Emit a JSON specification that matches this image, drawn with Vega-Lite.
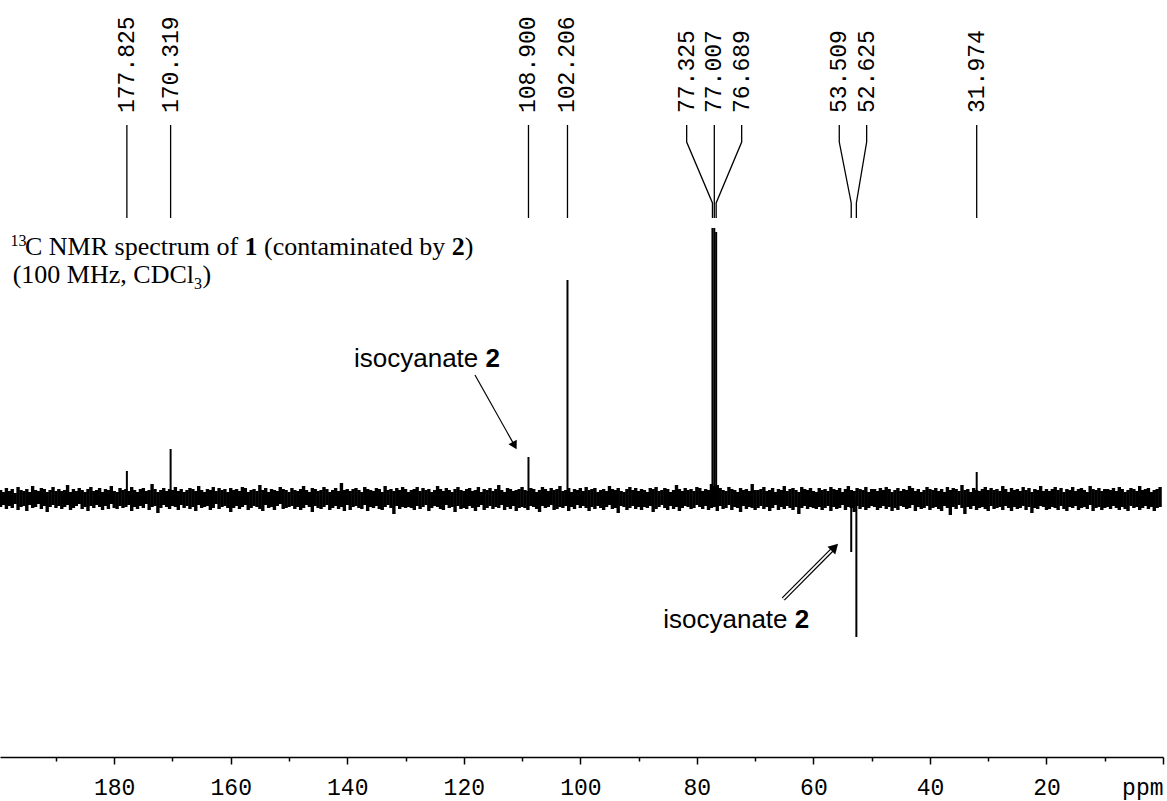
{
"$schema": "https://vega.github.io/schema/vega-lite/v6.json",
"width": 1163, "height": 757,
"autosize": "none",
"padding": {"left": 0, "top": 0, "right": 4, "bottom": 44},
"background": "white",
"config": {"view": {"stroke": null}, "axis": {"grid": false}},
"layer": [
{"data": {"values": [
{"p":199.5,"lo":-9,"hi":8},{"p":199,"lo":-7,"hi":6},{"p":198.5,"lo":-11,"hi":10},{"p":198,"lo":-8,"hi":7},{"p":197.5,"lo":-10,"hi":9},{"p":197,"lo":-6,"hi":5},{"p":196.5,"lo":-12,"hi":11},{"p":196,"lo":-9,"hi":8},{"p":195.5,"lo":-8,"hi":7},{"p":195,"lo":-13,"hi":9},{"p":194.5,"lo":-7,"hi":6},{"p":194,"lo":-10,"hi":12},{"p":193.5,"lo":-9,"hi":8},{"p":193,"lo":-6,"hi":7},{"p":192.5,"lo":-11,"hi":10},{"p":192,"lo":-8,"hi":9},{"p":191.5,"lo":-14,"hi":6},{"p":191,"lo":-9,"hi":8},{"p":190.5,"lo":-7,"hi":11},{"p":190,"lo":-10,"hi":7},
{"p":189.5,"lo":-8,"hi":9},{"p":189,"lo":-11,"hi":7},{"p":188.5,"lo":-9,"hi":8},{"p":188,"lo":-7,"hi":13},{"p":187.5,"lo":-12,"hi":6},{"p":187,"lo":-10,"hi":9},{"p":186.5,"lo":-8,"hi":7},{"p":186,"lo":-6,"hi":10},{"p":185.5,"lo":-11,"hi":8},{"p":185,"lo":-9,"hi":6},{"p":184.5,"lo":-13,"hi":9},{"p":184,"lo":-8,"hi":11},{"p":183.5,"lo":-10,"hi":7},{"p":183,"lo":-7,"hi":8},{"p":182.5,"lo":-9,"hi":10},{"p":182,"lo":-12,"hi":6},{"p":181.5,"lo":-8,"hi":9},{"p":181,"lo":-11,"hi":8},{"p":180.5,"lo":-6,"hi":12},{"p":180,"lo":-10,"hi":7},
{"p":179.5,"lo":-11,"hi":6},{"p":179,"lo":-8,"hi":10},{"p":178.5,"lo":-10,"hi":8},{"p":178,"lo":-9,"hi":9},{"p":177.5,"lo":-7,"hi":7},{"p":177,"lo":-13,"hi":11},{"p":176.5,"lo":-9,"hi":8},{"p":176,"lo":-11,"hi":6},{"p":175.5,"lo":-8,"hi":9},{"p":175,"lo":-10,"hi":10},{"p":174.5,"lo":-6,"hi":7},{"p":174,"lo":-12,"hi":8},{"p":173.5,"lo":-9,"hi":14},{"p":173,"lo":-8,"hi":9},{"p":172.5,"lo":-15,"hi":6},{"p":172,"lo":-10,"hi":8},{"p":171.5,"lo":-7,"hi":10},{"p":171,"lo":-9,"hi":7},{"p":170.5,"lo":-11,"hi":9},{"p":170,"lo":-8,"hi":8},
{"p":169.5,"lo":-9,"hi":11},{"p":169,"lo":-12,"hi":7},{"p":168.5,"lo":-7,"hi":9},{"p":168,"lo":-10,"hi":6},{"p":167.5,"lo":-8,"hi":8},{"p":167,"lo":-11,"hi":10},{"p":166.5,"lo":-9,"hi":9},{"p":166,"lo":-13,"hi":7},{"p":165.5,"lo":-7,"hi":12},{"p":165,"lo":-10,"hi":8},{"p":164.5,"lo":-9,"hi":6},{"p":164,"lo":-8,"hi":9},{"p":163.5,"lo":-12,"hi":8},{"p":163,"lo":-10,"hi":11},{"p":162.5,"lo":-6,"hi":7},{"p":162,"lo":-11,"hi":10},{"p":161.5,"lo":-9,"hi":8},{"p":161,"lo":-8,"hi":9},{"p":160.5,"lo":-10,"hi":6},{"p":160,"lo":-14,"hi":10},
{"p":159.5,"lo":-10,"hi":8},{"p":159,"lo":-8,"hi":9},{"p":158.5,"lo":-11,"hi":7},{"p":158,"lo":-9,"hi":11},{"p":157.5,"lo":-7,"hi":10},{"p":157,"lo":-12,"hi":6},{"p":156.5,"lo":-10,"hi":8},{"p":156,"lo":-8,"hi":9},{"p":155.5,"lo":-9,"hi":7},{"p":155,"lo":-11,"hi":13},{"p":154.5,"lo":-13,"hi":8},{"p":154,"lo":-7,"hi":10},{"p":153.5,"lo":-10,"hi":6},{"p":153,"lo":-9,"hi":9},{"p":152.5,"lo":-12,"hi":8},{"p":152,"lo":-8,"hi":7},{"p":151.5,"lo":-6,"hi":11},{"p":151,"lo":-11,"hi":9},{"p":150.5,"lo":-10,"hi":8},{"p":150,"lo":-9,"hi":6},
{"p":149.5,"lo":-8,"hi":10},{"p":149,"lo":-11,"hi":8},{"p":148.5,"lo":-9,"hi":7},{"p":148,"lo":-12,"hi":9},{"p":147.5,"lo":-10,"hi":12},{"p":147,"lo":-7,"hi":8},{"p":146.5,"lo":-9,"hi":6},{"p":146,"lo":-14,"hi":10},{"p":145.5,"lo":-8,"hi":9},{"p":145,"lo":-10,"hi":7},{"p":144.5,"lo":-11,"hi":8},{"p":144,"lo":-9,"hi":11},{"p":143.5,"lo":-7,"hi":9},{"p":143,"lo":-12,"hi":6},{"p":142.5,"lo":-10,"hi":8},{"p":142,"lo":-8,"hi":10},{"p":141.5,"lo":-11,"hi":7},{"p":141,"lo":-9,"hi":15},{"p":140.5,"lo":-13,"hi":8},{"p":140,"lo":-7,"hi":9},
{"p":139.5,"lo":-12,"hi":7},{"p":139,"lo":-9,"hi":9},{"p":138.5,"lo":-8,"hi":10},{"p":138,"lo":-10,"hi":8},{"p":137.5,"lo":-11,"hi":6},{"p":137,"lo":-7,"hi":11},{"p":136.5,"lo":-13,"hi":9},{"p":136,"lo":-9,"hi":8},{"p":135.5,"lo":-10,"hi":7},{"p":135,"lo":-8,"hi":10},{"p":134.5,"lo":-11,"hi":9},{"p":134,"lo":-12,"hi":6},{"p":133.5,"lo":-9,"hi":12},{"p":133,"lo":-7,"hi":8},{"p":132.5,"lo":-10,"hi":9},{"p":132,"lo":-16,"hi":7},{"p":131.5,"lo":-8,"hi":10},{"p":131,"lo":-11,"hi":8},{"p":130.5,"lo":-9,"hi":11},{"p":130,"lo":-10,"hi":9},
{"p":129.5,"lo":-9,"hi":6},{"p":129,"lo":-10,"hi":8},{"p":128.5,"lo":-12,"hi":9},{"p":128,"lo":-8,"hi":11},{"p":127.5,"lo":-11,"hi":7},{"p":127,"lo":-9,"hi":10},{"p":126.5,"lo":-7,"hi":8},{"p":126,"lo":-13,"hi":9},{"p":125.5,"lo":-10,"hi":6},{"p":125,"lo":-8,"hi":8},{"p":124.5,"lo":-9,"hi":12},{"p":124,"lo":-11,"hi":9},{"p":123.5,"lo":-12,"hi":7},{"p":123,"lo":-7,"hi":10},{"p":122.5,"lo":-10,"hi":8},{"p":122,"lo":-9,"hi":6},{"p":121.5,"lo":-14,"hi":9},{"p":121,"lo":-8,"hi":11},{"p":120.5,"lo":-11,"hi":8},{"p":120,"lo":-10,"hi":7},
{"p":119.5,"lo":-11,"hi":9},{"p":119,"lo":-8,"hi":10},{"p":118.5,"lo":-10,"hi":7},{"p":118,"lo":-13,"hi":8},{"p":117.5,"lo":-9,"hi":11},{"p":117,"lo":-7,"hi":6},{"p":116.5,"lo":-12,"hi":9},{"p":116,"lo":-10,"hi":8},{"p":115.5,"lo":-8,"hi":10},{"p":115,"lo":-11,"hi":7},{"p":114.5,"lo":-9,"hi":9},{"p":114,"lo":-10,"hi":13},{"p":113.5,"lo":-7,"hi":8},{"p":113,"lo":-12,"hi":6},{"p":112.5,"lo":-9,"hi":10},{"p":112,"lo":-11,"hi":9},{"p":111.5,"lo":-8,"hi":7},{"p":111,"lo":-13,"hi":8},{"p":110.5,"lo":-10,"hi":9},{"p":110,"lo":-9,"hi":11},
{"p":109.5,"lo":-10,"hi":8},{"p":109,"lo":-12,"hi":7},{"p":108.5,"lo":-8,"hi":10},{"p":108,"lo":-9,"hi":9},{"p":107.5,"lo":-11,"hi":6},{"p":107,"lo":-14,"hi":8},{"p":106.5,"lo":-8,"hi":11},{"p":106,"lo":-10,"hi":9},{"p":105.5,"lo":-9,"hi":7},{"p":105,"lo":-7,"hi":10},{"p":104.5,"lo":-12,"hi":8},{"p":104,"lo":-11,"hi":9},{"p":103.5,"lo":-9,"hi":12},{"p":103,"lo":-10,"hi":7},{"p":102.5,"lo":-8,"hi":8},{"p":102,"lo":-13,"hi":10},{"p":101.5,"lo":-9,"hi":6},{"p":101,"lo":-11,"hi":9},{"p":100.5,"lo":-7,"hi":8},{"p":100,"lo":-10,"hi":10},
{"p":99.5,"lo":-8,"hi":7},{"p":99,"lo":-10,"hi":11},{"p":98.5,"lo":-13,"hi":8},{"p":98,"lo":-9,"hi":9},{"p":97.5,"lo":-11,"hi":10},{"p":97,"lo":-8,"hi":6},{"p":96.5,"lo":-10,"hi":8},{"p":96,"lo":-12,"hi":9},{"p":95.5,"lo":-9,"hi":7},{"p":95,"lo":-7,"hi":12},{"p":94.5,"lo":-11,"hi":9},{"p":94,"lo":-10,"hi":8},{"p":93.5,"lo":-15,"hi":10},{"p":93,"lo":-8,"hi":7},{"p":92.5,"lo":-9,"hi":6},{"p":92,"lo":-12,"hi":9},{"p":91.5,"lo":-10,"hi":11},{"p":91,"lo":-8,"hi":8},{"p":90.5,"lo":-11,"hi":10},{"p":90,"lo":-9,"hi":7},
{"p":89.5,"lo":-12,"hi":9},{"p":89,"lo":-9,"hi":8},{"p":88.5,"lo":-10,"hi":6},{"p":88,"lo":-8,"hi":10},{"p":87.5,"lo":-14,"hi":9},{"p":87,"lo":-11,"hi":11},{"p":86.5,"lo":-9,"hi":7},{"p":86,"lo":-7,"hi":8},{"p":85.5,"lo":-10,"hi":10},{"p":85,"lo":-12,"hi":9},{"p":84.5,"lo":-8,"hi":6},{"p":84,"lo":-11,"hi":8},{"p":83.5,"lo":-9,"hi":13},{"p":83,"lo":-13,"hi":9},{"p":82.5,"lo":-10,"hi":7},{"p":82,"lo":-8,"hi":10},{"p":81.5,"lo":-9,"hi":8},{"p":81,"lo":-11,"hi":9},{"p":80.5,"lo":-10,"hi":7},{"p":80,"lo":-7,"hi":11},
{"p":79.5,"lo":-9,"hi":10},{"p":79,"lo":-11,"hi":7},{"p":78.5,"lo":-8,"hi":9},{"p":78,"lo":-12,"hi":8},{"p":77.5,"lo":-10,"hi":14},{"p":77,"lo":-9,"hi":12},{"p":76.5,"lo":-13,"hi":13},{"p":76,"lo":-8,"hi":10},{"p":75.5,"lo":-11,"hi":8},{"p":75,"lo":-10,"hi":7},{"p":74.5,"lo":-7,"hi":11},{"p":74,"lo":-12,"hi":9},{"p":73.5,"lo":-9,"hi":8},{"p":73,"lo":-10,"hi":6},{"p":72.5,"lo":-14,"hi":10},{"p":72,"lo":-8,"hi":8},{"p":71.5,"lo":-11,"hi":9},{"p":71,"lo":-9,"hi":7},{"p":70.5,"lo":-10,"hi":14},{"p":70,"lo":-12,"hi":8},
{"p":69.5,"lo":-10,"hi":8},{"p":69,"lo":-8,"hi":9},{"p":68.5,"lo":-11,"hi":11},{"p":68,"lo":-9,"hi":7},{"p":67.5,"lo":-13,"hi":8},{"p":67,"lo":-10,"hi":10},{"p":66.5,"lo":-7,"hi":6},{"p":66,"lo":-12,"hi":9},{"p":65.5,"lo":-9,"hi":8},{"p":65,"lo":-11,"hi":12},{"p":64.5,"lo":-8,"hi":7},{"p":64,"lo":-10,"hi":9},{"p":63.5,"lo":-12,"hi":10},{"p":63,"lo":-9,"hi":8},{"p":62.5,"lo":-16,"hi":6},{"p":62,"lo":-10,"hi":11},{"p":61.5,"lo":-8,"hi":9},{"p":61,"lo":-11,"hi":8},{"p":60.5,"lo":-9,"hi":10},{"p":60,"lo":-10,"hi":7},
{"p":59.5,"lo":-11,"hi":6},{"p":59,"lo":-9,"hi":10},{"p":58.5,"lo":-12,"hi":8},{"p":58,"lo":-10,"hi":9},{"p":57.5,"lo":-8,"hi":7},{"p":57,"lo":-13,"hi":11},{"p":56.5,"lo":-9,"hi":9},{"p":56,"lo":-11,"hi":8},{"p":55.5,"lo":-10,"hi":10},{"p":55,"lo":-7,"hi":6},{"p":54.5,"lo":-12,"hi":9},{"p":54,"lo":-9,"hi":12},{"p":53.5,"lo":-10,"hi":8},{"p":53,"lo":-14,"hi":7},{"p":52.5,"lo":-8,"hi":10},{"p":52,"lo":-11,"hi":9},{"p":51.5,"lo":-9,"hi":8},{"p":51,"lo":-12,"hi":11},{"p":50.5,"lo":-10,"hi":6},{"p":50,"lo":-8,"hi":9},
{"p":49.5,"lo":-9,"hi":9},{"p":49,"lo":-12,"hi":7},{"p":48.5,"lo":-10,"hi":10},{"p":48,"lo":-8,"hi":8},{"p":47.5,"lo":-11,"hi":11},{"p":47,"lo":-9,"hi":9},{"p":46.5,"lo":-13,"hi":6},{"p":46,"lo":-10,"hi":8},{"p":45.5,"lo":-12,"hi":10},{"p":45,"lo":-8,"hi":7},{"p":44.5,"lo":-9,"hi":9},{"p":44,"lo":-11,"hi":8},{"p":43.5,"lo":-10,"hi":12},{"p":43,"lo":-7,"hi":10},{"p":42.5,"lo":-13,"hi":7},{"p":42,"lo":-9,"hi":9},{"p":41.5,"lo":-11,"hi":6},{"p":41,"lo":-10,"hi":8},{"p":40.5,"lo":-8,"hi":11},{"p":40,"lo":-12,"hi":9},
{"p":39.5,"lo":-10,"hi":8},{"p":39,"lo":-9,"hi":10},{"p":38.5,"lo":-11,"hi":7},{"p":38,"lo":-13,"hi":9},{"p":37.5,"lo":-8,"hi":6},{"p":37,"lo":-10,"hi":11},{"p":36.5,"lo":-17,"hi":8},{"p":36,"lo":-9,"hi":10},{"p":35.5,"lo":-11,"hi":9},{"p":35,"lo":-7,"hi":7},{"p":34.5,"lo":-10,"hi":13},{"p":34,"lo":-16,"hi":8},{"p":33.5,"lo":-9,"hi":9},{"p":33,"lo":-11,"hi":6},{"p":32.5,"lo":-8,"hi":10},{"p":32,"lo":-12,"hi":8},{"p":31.5,"lo":-10,"hi":7},{"p":31,"lo":-9,"hi":9},{"p":30.5,"lo":-11,"hi":11},{"p":30,"lo":-13,"hi":8},
{"p":29.5,"lo":-8,"hi":10},{"p":29,"lo":-11,"hi":8},{"p":28.5,"lo":-10,"hi":9},{"p":28,"lo":-9,"hi":7},{"p":27.5,"lo":-12,"hi":12},{"p":27,"lo":-8,"hi":9},{"p":26.5,"lo":-10,"hi":6},{"p":26,"lo":-13,"hi":10},{"p":25.5,"lo":-9,"hi":8},{"p":25,"lo":-11,"hi":9},{"p":24.5,"lo":-10,"hi":7},{"p":24,"lo":-8,"hi":11},{"p":23.5,"lo":-12,"hi":8},{"p":23,"lo":-9,"hi":10},{"p":22.5,"lo":-15,"hi":6},{"p":22,"lo":-10,"hi":9},{"p":21.5,"lo":-11,"hi":8},{"p":21,"lo":-8,"hi":12},{"p":20.5,"lo":-9,"hi":7},{"p":20,"lo":-12,"hi":9},
{"p":19.5,"lo":-11,"hi":7},{"p":19,"lo":-9,"hi":9},{"p":18.5,"lo":-10,"hi":11},{"p":18,"lo":-12,"hi":8},{"p":17.5,"lo":-8,"hi":10},{"p":17,"lo":-11,"hi":6},{"p":16.5,"lo":-13,"hi":9},{"p":16,"lo":-9,"hi":8},{"p":15.5,"lo":-10,"hi":11},{"p":15,"lo":-8,"hi":7},{"p":14.5,"lo":-12,"hi":9},{"p":14,"lo":-10,"hi":10},{"p":13.5,"lo":-9,"hi":8},{"p":13,"lo":-11,"hi":6},{"p":12.5,"lo":-7,"hi":12},{"p":12,"lo":-13,"hi":9},{"p":11.5,"lo":-10,"hi":8},{"p":11,"lo":-9,"hi":10},{"p":10.5,"lo":-12,"hi":7},{"p":10,"lo":-10,"hi":9},
{"p":9.5,"lo":-9,"hi":9},{"p":9,"lo":-11,"hi":8},{"p":8.5,"lo":-8,"hi":10},{"p":8,"lo":-10,"hi":7},{"p":7.5,"lo":-12,"hi":11},{"p":7,"lo":-9,"hi":9},{"p":6.5,"lo":-11,"hi":6},{"p":6,"lo":-13,"hi":8},{"p":5.5,"lo":-8,"hi":10},{"p":5,"lo":-10,"hi":9},{"p":4.5,"lo":-9,"hi":7},{"p":4,"lo":-12,"hi":12},{"p":3.5,"lo":-10,"hi":8},{"p":3,"lo":-8,"hi":9},{"p":2.5,"lo":-11,"hi":10},{"p":2,"lo":-9,"hi":6},{"p":1.5,"lo":-13,"hi":8},{"p":1,"lo":-10,"hi":9},{"p":0.5,"lo":-9,"hi":11}
]},
 "mark": {"type": "rule", "strokeWidth": 3.4, "color": "black"},
 "encoding": {
  "x": {"field": "p", "type": "quantitative",
        "scale": {"domain": [0, 199.6], "reverse": true, "nice": false, "zero": false},
        "axis": {"title": null, "values": [0,10,20,30,40,50,60,70,80,90,100,110,120,130,140,150,160,170,180,190],
                 "tickSize": {"condition": {"test": "datum.value % 20 === 0", "value": 7}, "value": 4},
                 "tickColor": "black", "tickWidth": 1.5, "domainColor": "black", "domainWidth": 1.5,
                 "labelExpr": "datum.value === 0 ? 'ppm' : (datum.value % 20 === 0 ? datum.label : '')",
                 "labelFont": "Liberation Mono", "labelFontSize": 23, "labelColor": "black",
                 "labelPadding": 12, "labelFlush": true, "labelOverlap": false, "grid": false}},
  "y": {"field": "lo", "type": "quantitative", "scale": {"domain": [-259, 498], "nice": false, "zero": false}, "axis": null},
  "y2": {"field": "hi"}
 }},
{"data": {"values": [
{"ppm":177.825,"lo":0,"hi":27},
{"ppm":170.319,"lo":0,"hi":49},
{"ppm":108.9,"lo":0,"hi":41},
{"ppm":102.206,"lo":0,"hi":218},
{"ppm":77.325,"lo":0,"hi":270},
{"ppm":77.007,"lo":0,"hi":270},
{"ppm":76.689,"lo":0,"hi":266},
{"ppm":53.509,"lo":-54,"hi":0},
{"ppm":52.625,"lo":-139,"hi":0},
{"ppm":31.974,"lo":0,"hi":26}
]},
 "mark": {"type": "rule", "strokeWidth": 2, "color": "black"},
 "encoding": {
  "x": {"field": "ppm", "type": "quantitative", "scale": {"domain": [0, 199.6], "reverse": true, "nice": false, "zero": false}, "title": null},
  "y": {"field": "lo", "type": "quantitative", "scale": {"domain": [-259, 498], "nice": false, "zero": false}, "axis": null},
  "y2": {"field": "hi"}
 }},
{"data": {"values": [
{"g":"177.825","k":0,"x":177.825,"y":373},{"g":"177.825","k":1,"x":177.825,"y":356},{"g":"177.825","k":2,"x":177.825,"y":295},{"g":"177.825","k":3,"x":177.825,"y":280},
{"g":"170.319","k":0,"x":170.319,"y":373},{"g":"170.319","k":1,"x":170.319,"y":356},{"g":"170.319","k":2,"x":170.319,"y":295},{"g":"170.319","k":3,"x":170.319,"y":280},
{"g":"108.900","k":0,"x":108.9,"y":373},{"g":"108.900","k":1,"x":108.9,"y":356},{"g":"108.900","k":2,"x":108.9,"y":295},{"g":"108.900","k":3,"x":108.9,"y":280},
{"g":"102.206","k":0,"x":102.206,"y":373},{"g":"102.206","k":1,"x":102.206,"y":356},{"g":"102.206","k":2,"x":102.206,"y":295},{"g":"102.206","k":3,"x":102.206,"y":280},
{"g":"77.325","k":0,"x":81.75,"y":373},{"g":"77.325","k":1,"x":81.75,"y":356},{"g":"77.325","k":2,"x":77.325,"y":295},{"g":"77.325","k":3,"x":77.325,"y":280},
{"g":"77.007","k":0,"x":77.007,"y":373},{"g":"77.007","k":1,"x":77.007,"y":356},{"g":"77.007","k":2,"x":77.007,"y":295},{"g":"77.007","k":3,"x":77.007,"y":280},
{"g":"76.689","k":0,"x":72.31,"y":373},{"g":"76.689","k":1,"x":72.31,"y":356},{"g":"76.689","k":2,"x":76.689,"y":295},{"g":"76.689","k":3,"x":76.689,"y":280},
{"g":"53.509","k":0,"x":55.56,"y":373},{"g":"53.509","k":1,"x":55.56,"y":356},{"g":"53.509","k":2,"x":53.509,"y":295},{"g":"53.509","k":3,"x":53.509,"y":280},
{"g":"52.625","k":0,"x":50.86,"y":373},{"g":"52.625","k":1,"x":50.86,"y":356},{"g":"52.625","k":2,"x":52.625,"y":295},{"g":"52.625","k":3,"x":52.625,"y":280},
{"g":"31.974","k":0,"x":31.974,"y":373},{"g":"31.974","k":1,"x":31.974,"y":356},{"g":"31.974","k":2,"x":31.974,"y":295},{"g":"31.974","k":3,"x":31.974,"y":280}
]},
 "mark": {"type": "line", "strokeWidth": 1.3, "color": "black"},
 "encoding": {
  "x": {"field": "x", "type": "quantitative", "scale": {"domain": [0, 199.6], "reverse": true, "nice": false, "zero": false}, "title": null},
  "y": {"field": "y", "type": "quantitative", "scale": {"domain": [-259, 498], "nice": false, "zero": false}, "axis": null},
  "detail": {"field": "g", "type": "nominal"},
  "order": {"field": "k", "type": "quantitative"}
 }},
{"data": {"values": [
{"x":177.825,"y":385,"t":"177.825"},
{"x":170.319,"y":385,"t":"170.319"},
{"x":108.9,"y":385,"t":"108.900"},
{"x":102.206,"y":385,"t":"102.206"},
{"x":81.75,"y":385,"t":"77.325"},
{"x":77.007,"y":385,"t":"77.007"},
{"x":72.31,"y":385,"t":"76.689"},
{"x":55.56,"y":385,"t":"53.509"},
{"x":50.86,"y":385,"t":"52.625"},
{"x":31.974,"y":385,"t":"31.974"}
]},
 "mark": {"type": "text", "angle": 270, "align": "left", "baseline": "middle", "font": "Liberation Mono", "fontSize": 23, "color": "black"},
 "encoding": {
  "x": {"field": "x", "type": "quantitative", "scale": {"domain": [0, 199.6], "reverse": true, "nice": false, "zero": false}, "title": null},
  "y": {"field": "y", "type": "quantitative", "scale": {"domain": [-259, 498], "nice": false, "zero": false}, "axis": null},
  "text": {"field": "t", "type": "nominal"}
 }},
{"data": {"values": [{"x":118.08,"y":123},{"x":111.28,"y":52.4}]},
 "mark": {"type": "line", "strokeWidth": 1.2, "color": "black"},
 "encoding": {
  "x": {"field": "x", "type": "quantitative", "scale": {"domain": [0, 199.6], "reverse": true, "nice": false, "zero": false}, "title": null},
  "y": {"field": "y", "type": "quantitative", "scale": {"domain": [-259, 498], "nice": false, "zero": false}, "axis": null}
 }},
{"data": {"values": [{"x":65.17,"y":-101},{"x":56.34,"y":-49.2}]},
 "mark": {"type": "line", "strokeWidth": 4.2, "color": "black"},
 "encoding": {
  "x": {"field": "x", "type": "quantitative", "scale": {"domain": [0, 199.6], "reverse": true, "nice": false, "zero": false}, "title": null},
  "y": {"field": "y", "type": "quantitative", "scale": {"domain": [-259, 498], "nice": false, "zero": false}, "axis": null}
 }},
{"data": {"values": [{"x":65.17,"y":-101},{"x":56.34,"y":-49.2}]},
 "mark": {"type": "line", "strokeWidth": 1.8, "color": "white"},
 "encoding": {
  "x": {"field": "x", "type": "quantitative", "scale": {"domain": [0, 199.6], "reverse": true, "nice": false, "zero": false}, "title": null},
  "y": {"field": "y", "type": "quantitative", "scale": {"domain": [-259, 498], "nice": false, "zero": false}, "axis": null}
 }},
{"data": {"values": [{"x":111.28,"y":52.4}]},
 "mark": {"type": "point", "shape": "triangle-up", "filled": true, "size": 90, "angle": 151, "color": "black", "opacity": 1},
 "encoding": {
  "x": {"field": "x", "type": "quantitative", "scale": {"domain": [0, 199.6], "reverse": true, "nice": false, "zero": false}, "title": null},
  "y": {"field": "y", "type": "quantitative", "scale": {"domain": [-259, 498], "nice": false, "zero": false}, "axis": null}
 }},
{"data": {"values": [{"x":56.34,"y":-49.2}]},
 "mark": {"type": "point", "shape": "triangle-up", "filled": true, "size": 120, "angle": 45, "color": "black", "opacity": 1},
 "encoding": {
  "x": {"field": "x", "type": "quantitative", "scale": {"domain": [0, 199.6], "reverse": true, "nice": false, "zero": false}, "title": null},
  "y": {"field": "y", "type": "quantitative", "scale": {"domain": [-259, 498], "nice": false, "zero": false}, "axis": null}
 }},
{"data": {"values": [
{"x":195.31,"y":243,"t":"C NMR spectrum of"},
{"x":154.29,"y":243,"t":"(contaminated by"},
{"x":119.85,"y":243,"t":")"},
{"x":197.42,"y":215,"t":"(100 MHz, CDCl"},
{"x":164.85,"y":215,"t":")"}
]},
 "mark": {"type": "text", "align": "left", "baseline": "alphabetic", "font": "Liberation Serif", "fontSize": 26, "color": "black"},
 "encoding": {
  "x": {"field": "x", "type": "quantitative", "scale": {"domain": [0, 199.6], "reverse": true, "nice": false, "zero": false}, "title": null},
  "y": {"field": "y", "type": "quantitative", "scale": {"domain": [-259, 498], "nice": false, "zero": false}, "axis": null},
  "text": {"field": "t", "type": "nominal"}
 }},
{"data": {"values": [
{"x":157.64,"y":243,"t":"1"},
{"x":122.08,"y":243,"t":"2"}
]},
 "mark": {"type": "text", "align": "left", "baseline": "alphabetic", "font": "Liberation Serif", "fontSize": 26, "fontWeight": "bold", "color": "black"},
 "encoding": {
  "x": {"field": "x", "type": "quantitative", "scale": {"domain": [0, 199.6], "reverse": true, "nice": false, "zero": false}, "title": null},
  "y": {"field": "y", "type": "quantitative", "scale": {"domain": [-259, 498], "nice": false, "zero": false}, "axis": null},
  "text": {"field": "t", "type": "nominal"}
 }},
{"data": {"values": [
{"x":197.8,"y":252,"t":"13"},
{"x":166.31,"y":209,"t":"3"}
]},
 "mark": {"type": "text", "align": "left", "baseline": "alphabetic", "font": "Liberation Serif", "fontSize": 16, "color": "black"},
 "encoding": {
  "x": {"field": "x", "type": "quantitative", "scale": {"domain": [0, 199.6], "reverse": true, "nice": false, "zero": false}, "title": null},
  "y": {"field": "y", "type": "quantitative", "scale": {"domain": [-259, 498], "nice": false, "zero": false}, "axis": null},
  "text": {"field": "t", "type": "nominal"}
 }},
{"data": {"values": [
{"x":138.85,"y":131,"t":"isocyanate"},
{"x":85.77,"y":-130,"t":"isocyanate"}
]},
 "mark": {"type": "text", "align": "left", "baseline": "alphabetic", "font": "Liberation Sans", "fontSize": 26, "color": "black"},
 "encoding": {
  "x": {"field": "x", "type": "quantitative", "scale": {"domain": [0, 199.6], "reverse": true, "nice": false, "zero": false}, "title": null},
  "y": {"field": "y", "type": "quantitative", "scale": {"domain": [-259, 498], "nice": false, "zero": false}, "axis": null},
  "text": {"field": "t", "type": "nominal"}
 }},
{"data": {"values": [
{"x":116.28,"y":131,"t":"2"},
{"x":63.2,"y":-130,"t":"2"}
]},
 "mark": {"type": "text", "align": "left", "baseline": "alphabetic", "font": "Liberation Sans", "fontSize": 26, "fontWeight": "bold", "color": "black"},
 "encoding": {
  "x": {"field": "x", "type": "quantitative", "scale": {"domain": [0, 199.6], "reverse": true, "nice": false, "zero": false}, "title": null},
  "y": {"field": "y", "type": "quantitative", "scale": {"domain": [-259, 498], "nice": false, "zero": false}, "axis": null},
  "text": {"field": "t", "type": "nominal"}
 }}
]
}
